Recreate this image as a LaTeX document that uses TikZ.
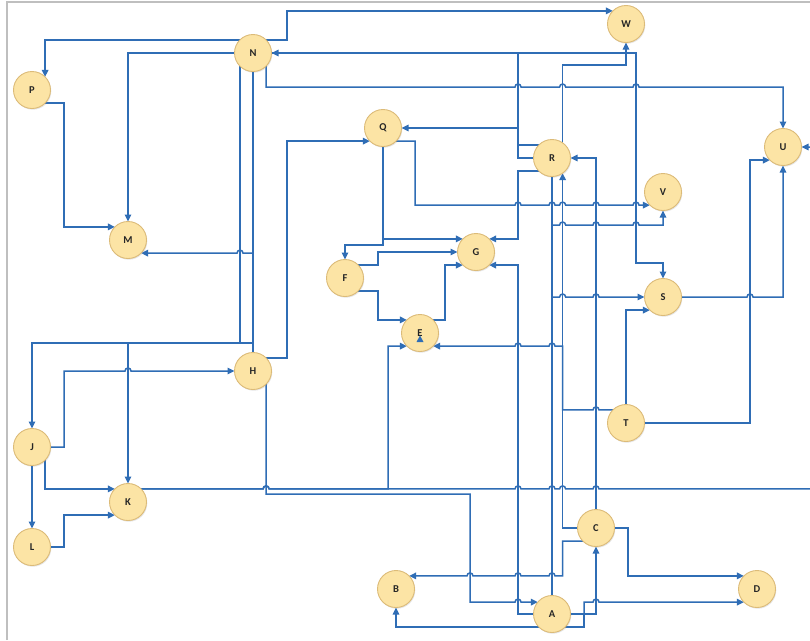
\documentclass[tikz,border=0pt]{standalone}
\usepackage{fontspec}
\setmainfont{Carlito}
\usetikzlibrary{arrows.meta,shadows}
\definecolor{lc}{HTML}{2F6DB5}
\definecolor{nodefill}{HTML}{FCE4A5}
\definecolor{nodeline}{HTML}{DCBB78}
\pgfdeclarelayer{bg}
\pgfsetlayers{bg,main}
\newcommand\hopR[2]{-- ({#1-3},#2) arc[start angle=180,end angle=0,radius=3pt]}
\newcommand\hopL[2]{-- ({#1+3},#2) arc[start angle=0,end angle=180,radius=3pt]}
\begin{document}
\begin{tikzpicture}[x=1pt,y=-1pt,
  circ/.style={circle,minimum size=37pt,inner sep=0pt,outer sep=0pt,fill=nodefill,draw=nodeline,line width=0.9pt,
    font=\bfseries\fontsize{10.5}{12}\selectfont,text=black!85,
    drop shadow={shadow xshift=0.8pt,shadow yshift=-1.2pt,opacity=0.2}},
  ln/.style={draw=lc,line width=1.5pt},
  ar/.style={ln,-{Triangle[length=7pt,width=6.5pt]}}]
\useasboundingbox (0,0) rectangle (810,640);
% nodes
\node[circ] (N) at (253,53) {N};
\node[circ] (W) at (626,24) {W};
\node[circ] (P) at (32,90) {P};
\node[circ] (Q) at (383,128) {Q};
\node[circ] (R) at (552,158) {R};
\node[circ] (U) at (783,147) {U};
\node[circ] (V) at (663,192) {V};
\node[circ] (M) at (128,240) {M};
\node[circ] (F) at (345,278) {F};
\node[circ] (G) at (476,252) {G};
\node[circ] (E) at (420,333) {E};
\node[circ] (S) at (663,297) {S};
\node[circ] (H) at (253,371) {H};
\node[circ] (T) at (626,423) {T};
\node[circ] (J) at (32,447) {J};
\node[circ] (K) at (128,502) {K};
\node[circ] (L) at (32,547) {L};
\node[circ] (C) at (596,528) {C};
\node[circ] (B) at (396,589) {B};
\node[circ] (D) at (757,589) {D};
\node[circ] (A) at (552,614) {A};
\fill[lc] (416.5,342) -- (423.5,342) -- (420,335.5) -- cycle;
\begin{pgfonlayer}{bg}
\fill[white] (0,0) rectangle (810,640);
\draw[black!25,line width=1.6pt] (7,640) -- (7,2) -- (810,2);
\begin{scope}
\clip (0,0) rectangle (810,640);
% from N
\draw[ar] (N.45) -| (287,20) |- (W.135);
\draw[ar] (N.135) -| (P.45);
\draw[ar] (N.west) -| (M.north);
\draw[ar] (N.315) |- (400,87) \hopR{518}{87} \hopR{562.6}{87} \hopR{636}{87} -| (U.north);
\draw[ar] (N.east) -| (636,263) -| (S.north);
\draw[ln] (N.south) -- (H.north);
\draw[ar] (N.225) |- (128,343) -- (K.north);
% from P
\draw[ar] (P.315) -| (64,200) |- (M.135);
% from R
\draw[ar] (R.135) -| (518,100) |- (N.east);
\draw[ar] (R.west) -| (518,140) |- (Q.east);
\draw[ar] (R.55) |- (626,65) -- (W.south);
\draw[ar] (R.225) -| (518,200) |- (G.45);
\draw[ar] (R.south) -- (552,225) \hopR{562.6}{225} \hopR{596}{225} \hopR{636}{225} -| (V.south);
\draw[ar] (R.south) -- (552,297) \hopR{562.6}{297} \hopR{596}{297} -- (S.west);
\draw[ln] (R.south) -- (A.north);
% from Q
\draw[ar] (Q.315) -| (415,205.1) \hopR{518}{205.1} \hopR{552}{205.1} \hopR{562.6}{205.1} \hopR{596}{205.1} \hopR{636}{205.1} -- (V.225);
\draw[ar] (Q.south) |- (G.135);
\draw[ar] (Q.south) -- (383,245) -| (F.north);
% from F
\draw[ar] (F.45) -| (378,258) |- (G.west);
\draw[ar] (F.315) -| (378,300) |- (E.135);
% from E
\draw[ar] (E.45) -| (445,300) |- (G.225);
% from H
\draw[ar] (H.north) -- (253,253.1) \hopL{240}{253.1} -- (M.315);
\draw[ar] (H.north) -- (253,343) -| (J.north);
\draw[ar] (H.45) -| (287,300) |- (Q.225);
\draw[ar] (H.315) |- (470,494) -- (470,602.1) \hopR{518}{602.1} -- (A.140);
% from J
\draw[ar] (J.east) -| (64,400) |- (100,371) \hopR{128}{371} -- (H.west);
\draw[ar] (J.315) |- (K.135);
\draw[ar] (J.south) -- (L.north);
% from L
\draw[ar] (L.east) -| (64,530) |- (K.225);
% from K
\draw[ar] (K.45) \hopR{266.1}{488.9} \hopR{518}{488.9} \hopR{552}{488.9} \hopR{562.6}{488.9} \hopR{596}{488.9} -- (830,488.9) |- (U.east);
\draw[ar] (K.45) \hopR{266.1}{488.9} -- (388,488.9) |- (E.225);
% from T
\draw[ar] (T.135) \hopL{596}{409.9} -| (562.6,380) -- (562.6,346.1) \hopL{552}{346.1} \hopL{518}{346.1} -- (E.315);
\draw[ar] (T.north) |- (S.225);
\draw[ar] (T.east) -| (750,200) |- (U.225);
% from S
\draw[ar] (S.east) \hopR{750}{297} -| (U.south);
% from C
\draw[ar] (C.west) -| (R.305);
\draw[ar] (C.north) |- (R.east);
\draw[ar] (C.225) -| (562.6,575.9) \hopL{552}{575.9} \hopL{518}{575.9} \hopL{470}{575.9} -- (B.45);
\draw[ar] (C.east) -| (628,560) |- (D.135);
% from A
\draw[ar] (A.east) -| (C.south);
\draw[ar] (A.east) -| (584,602.1) \hopR{596}{602.1} -- (D.225);
\draw[ar] (A.east) -| (584,627) -| (B.south);
\draw[ar] (A.west) -| (518,400) |- (G.315);
\end{scope}
\end{pgfonlayer}
\end{tikzpicture}
\end{document}
